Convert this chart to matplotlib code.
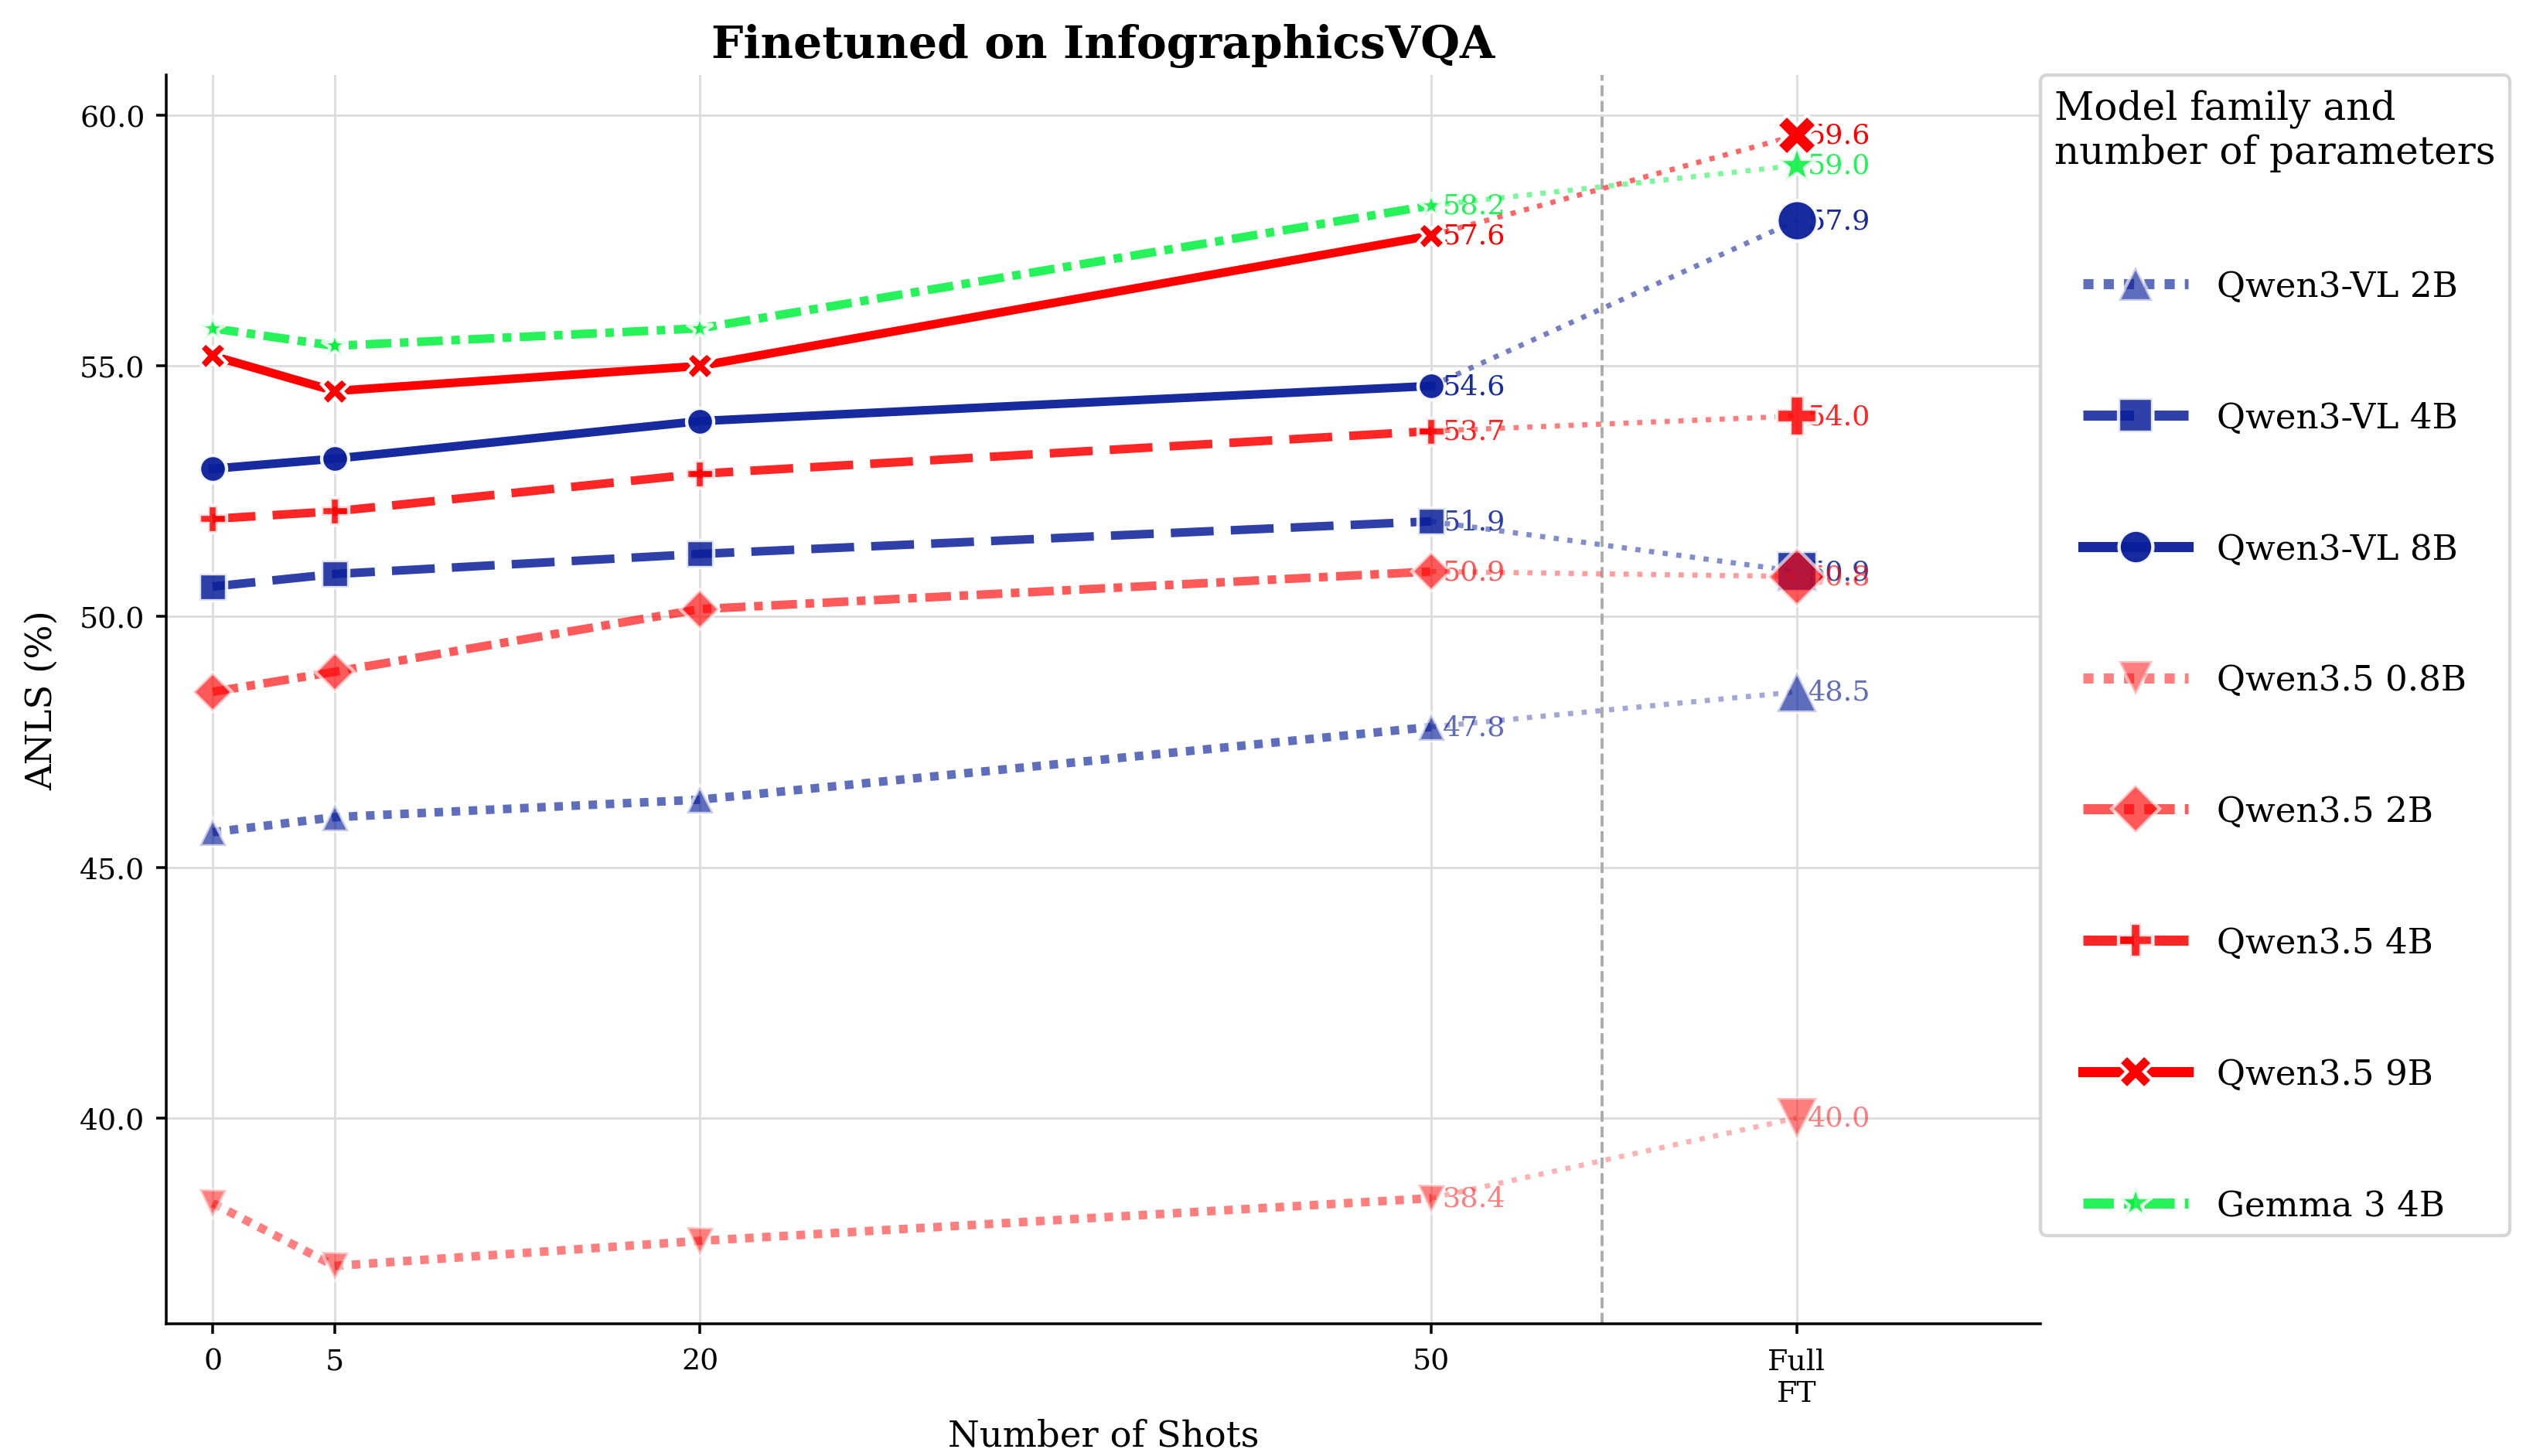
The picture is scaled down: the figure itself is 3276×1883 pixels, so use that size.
import matplotlib.pyplot as plt
from matplotlib.lines import Line2D
from matplotlib.colors import to_rgba

plt.rcParams['font.family'] = ['DejaVu Serif']

# x positions: few-shot counts, then full fine-tuning placed after a gap
shots = [0, 5, 20, 50]
full_x = 65
xtick_pos = [0, 5, 20, 50, 65]
xtick_labels = ["0", "5", "20", "50", "Full\nFT"]
yticks = [40, 45, 50, 55, 60]

labels = ["Qwen3-VL 2B", "Qwen3-VL 4B", "Qwen3-VL 8B", "Qwen3.5 0.8B",
          "Qwen3.5 2B", "Qwen3.5 4B", "Qwen3.5 9B", "Gemma 3 4B"]

# ANLS (%) at 0 / 5 / 20 / 50 shots
qwen3vl_2b = [45.7, 46.0, 46.35, 47.8]
qwen3vl_4b = [50.6, 50.85, 51.25, 51.9]
qwen3vl_8b = [52.95, 53.15, 53.9, 54.6]
qwen35_08b = [38.3, 37.05, 37.55, 38.4]
qwen35_2b = [48.5, 48.9, 50.15, 50.9]
qwen35_4b = [51.95, 52.1, 52.85, 53.7]
qwen35_9b = [55.2, 54.5, 55.0, 57.6]
gemma3_4b = [55.75, 55.4, 55.75, 58.2]

# ANLS (%) after full fine-tuning
full_ft = [48.5, 50.9, 57.9, 40.0, 50.8, 54.0, 59.6, 59.0]

series = [qwen3vl_2b, qwen3vl_4b, qwen3vl_8b, qwen35_08b,
          qwen35_2b, qwen35_4b, qwen35_9b, gemma3_4b]

BLUE = "#0a1f9a"
RED = "#ff0000"
GREEN = "#00f03c"
DOT = (0, (1, 1))
DASH = (0, (5, 2))
DASHDOT = (0, (3, 1, 1, 1))
styles = [
    (BLUE, 0.65, DOT, "^"),
    (BLUE, 0.85, DASH, "s"),
    (BLUE, 0.95, "-", "o"),
    (RED, 0.5, DOT, "v"),
    (RED, 0.65, DASHDOT, "D"),
    (RED, 0.85, DASH, "P"),
    (RED, 1.0, "-", "X"),
    (GREEN, 0.85, DASHDOT, "*"),
]

fig = plt.figure(figsize=(15.6, 8.9714), dpi=210)
ax = fig.add_axes([0.0657, 0.0909, 0.7398, 0.857])

handles = []
for lab, vals, full, (col, a, ls, mk) in zip(labels, series, full_ft, styles):
    c = to_rgba(col, a)
    edge = to_rgba("white", a)
    ax.plot(shots, vals, color=c, ls=ls, lw=3.8, marker=mk, ms=12,
            mfc=c, mec=edge, mew=1.5, zorder=3)
    # dotted link from 50-shot to full FT
    ax.plot([shots[-1], full_x], [vals[-1], full], color=to_rgba(col, a * 0.6),
            ls=":", lw=2.3, zorder=3)
    ax.plot([full_x], [full], ls="none", marker=mk, ms=18, mfc=c, mec=edge,
            mew=1.5, zorder=3)
    for xv, yv in [(shots[-1], vals[-1]), (full_x, full)]:
        ax.annotate(f"{yv:.1f}", (xv, yv), xytext=(5, 0), textcoords="offset points",
                    ha="left", va="center", fontsize=12.5, color=c, zorder=2)
    handles.append(Line2D([], [], color=c, ls=ls, lw=4.5, marker=mk, ms=15,
                          mfc=c, mec=edge, mew=1.5, label=lab))

ax.axvline(57, color="#aaaaaa", ls="--", lw=1.3, zorder=1)

ax.set_xlim(-1.9, 75)
ax.set_ylim(35.9, 60.8)
ax.set_xticks(xtick_pos)
ax.set_xticklabels(xtick_labels, fontsize=13)
ax.set_yticks(yticks)
ax.set_yticklabels([f"{v:.1f}" for v in yticks], fontsize=13)
ax.tick_params(axis="x", length=4.5, width=1.2, pad=6)
ax.tick_params(axis="y", length=4.5, width=1.2, pad=5)
ax.grid(True, color="#dddddd", lw=1.0, zorder=0)
ax.set_axisbelow(True)
for s in ["top", "right"]:
    ax.spines[s].set_visible(False)
for s in ["left", "bottom"]:
    ax.spines[s].set_linewidth(1.2)

ax.set_xlabel("Number of Shots", fontsize=16, labelpad=5)
ax.set_ylabel("ANLS (%)", fontsize=16, labelpad=9)
ax.set_title("Finetuned on InfographicsVQA", fontsize=20, fontweight="bold", pad=8)

leg = ax.legend(handles=handles, title="Model family and\nnumber of parameters",
                loc="upper left", bbox_to_anchor=(1.0, 1.0), borderaxespad=0,
                fontsize=15.5, title_fontsize=17.2, labelspacing=2.8,
                handlelength=3.0, handletextpad=0.83, frameon=True, fancybox=True,
                edgecolor="#cccccc")
leg.get_frame().set_linewidth(1.5)

fig.savefig("out.png", dpi=210)
